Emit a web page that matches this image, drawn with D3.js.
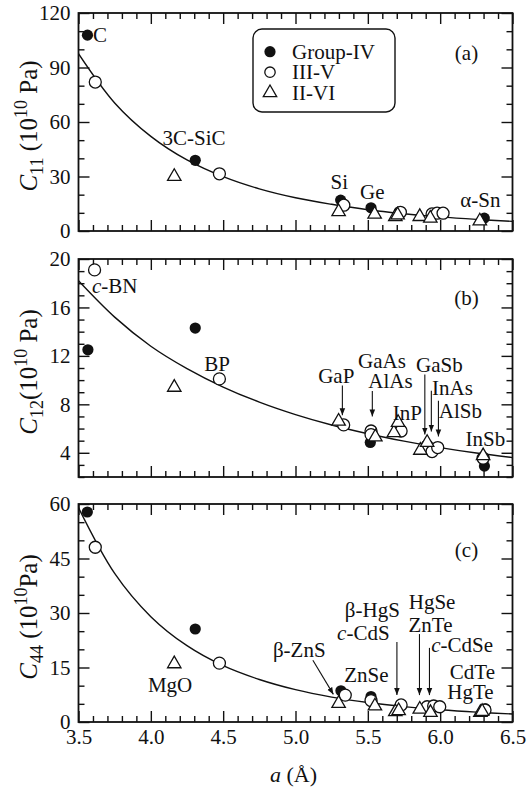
<!DOCTYPE html>
<html>
<head>
<meta charset="utf-8">
<script src="https://cdn.jsdelivr.net/npm/d3@7"></script>
<style>
  body { margin: 0; background: #fff; }
  svg { display: block; }
  text { font-family: "Liberation Serif", "Times New Roman", serif; fill: #111; }
</style>
</head>
<body>
<div id="chart"></div>
<script>
// lattice constant a (Å) and elastic constants (10^10 Pa)
const c11_IV_a = [3.562, 4.307, 5.312, 5.522, 6.305];
const c11_IV = [107.8, 38.9, 17.0, 12.8, 7.1];
const c11_IIIV_a = [3.616, 4.474, 5.334, 5.725, 5.944, 5.979, 6.020];
const c11_IIIV = [82.0, 31.5, 14.2, 10.3, 9.4, 9.8, 9.8];
const c11_IIVI_a = [4.162, 5.298, 5.547, 5.690, 5.706, 5.859, 5.932, 6.274];
const c11_IIVI = [30.0, 10.6, 9.2, 7.9, 8.8, 7.9, 7.0, 5.5];

const c12_IV_a = [3.565, 4.307, 5.517, 6.306];
const c12_IV = [12.5, 14.3, 4.85, 2.9];
const c12_IIIV_a = [3.611, 4.474, 5.333, 5.522, 5.522, 5.730, 5.910, 5.944, 5.983, 6.297];
const c12_IIIV = [19.1, 10.1, 6.3, 5.8, 5.5, 5.8, 4.57, 4.1, 4.43, 3.55];
const c12_IIVI_a = [4.162, 5.298, 5.552, 5.680, 5.709, 5.863, 5.910, 6.297];
const c12_IIVI = [9.4, 6.6, 5.3, 5.65, 6.5, 4.2, 4.85, 3.75];

const c44_IV_a = [3.561, 4.307, 5.314, 5.522, 6.313];
const c44_IV = [57.8, 25.6, 8.6, 7.0, 3.6];
const c44_IIIV_a = [3.616, 4.474, 5.344, 5.522, 5.730, 5.910, 5.955, 5.997, 6.310];
const c44_IIIV = [48.1, 16.2, 7.4, 5.9, 4.7, 4.2, 4.4, 4.2, 3.3];
const c44_IIVI_a = [4.162, 5.298, 5.549, 5.690, 5.713, 5.859, 5.933, 6.278, 6.290];
const c44_IIVI = [16.0, 5.1, 4.4, 2.8, 3.1, 3.5, 2.6, 2.6, 2.9];

// fitted curves, read at fixed a
const fitA = [3.5, 3.75, 4.0, 4.25, 4.5, 4.75, 5.0, 5.25, 5.5, 5.75, 6.0, 6.25, 6.5];
const fitC11 = [97.6, 70.5, 52.1, 39.1, 29.9, 23.2, 18.3, 14.7, 11.7, 9.5, 7.75, 6.4, 5.3];
const fitC12 = [18.2, 15.2, 12.8, 10.95, 9.43, 8.18, 7.15, 6.29, 5.57, 4.96, 4.43, 3.98, 3.6];
const fitC44 = [59, 40.9, 29.0, 21.0, 15.5, 11.7, 8.9, 6.86, 5.35, 4.22, 3.37, 2.71, 2.2];

// tick labels
const xTicks = [3.5, 4.0, 4.5, 5.0, 5.5, 6.0, 6.5];
const c11Ticks = [0, 30, 60, 90, 120];
const c12Ticks = [4, 8, 12, 16, 20];
const c44Ticks = [0, 15, 30, 45, 60];

const legendLabels = ['Group-IV', 'III-V', 'II-VI'];

// text labels: [text, a, value]
const c11Labels = [['C', 3.6, 104, 'start'], ['3C-SiC', 4.299, 47.3], ['Si', 5.303, 23.1], ['Ge', 5.531, 17.6], ['α-Sn', 6.278, 13.2]];
const c12Labels = [['BP', 4.458, 10.79], ['GaP', 5.282, 9.8], ['GaAs', 5.598, 11.04], ['AlAs', 5.656, 9.38],
  ['InP', 5.773, 6.73], ['GaSb', 5.995, 10.63], ['InAs', 6.085, 8.8], ['AlSb', 6.14, 6.89], ['InSb', 6.313, 4.57]];
const c44Labels = [['β-ZnS', 5.026, 17.9], ['ZnSe', 5.49, 11.0], ['β-HgS', 5.531, 28.9], ['HgSe', 5.944, 31.1],
  ['ZnTe', 5.933, 24.8], ['CdTe', 6.223, 11.8], ['HgTe', 6.209, 6.3], ['MgO', 4.133, 8.3]];
// arrows: [a1, v1, a2, v2]
const c12Arrows = [[5.324, 9.55, 5.324, 7.1], [5.531, 9.1, 5.531, 7.0], [5.894, 10.46, 5.894, 5.5],
  [5.939, 9.13, 5.939, 5.75], [5.988, 8.3, 5.988, 5.35]];
const c44Arrows = [[5.12, 17.0, 5.262, 7.6], [5.701, 22.0, 5.701, 7.4], [5.857, 24.2, 5.857, 7.4], [5.926, 20.4, 5.926, 7.4]];

const W = 527, H = 790;
const left = 78.5, right = 512.5, ph = 218;
const tops = [13, 259, 504];

const svg = d3.select('#chart').append('svg').attr('width', W).attr('height', H);
svg.append('rect').attr('width', W).attr('height', H).attr('fill', '#fff');

const defs = svg.append('defs');
defs.append('marker').attr('id', 'arrow').attr('viewBox', '0 0 10 10')
  .attr('refX', 10).attr('refY', 5).attr('markerWidth', 7).attr('markerHeight', 7)
  .attr('markerUnits', 'userSpaceOnUse').attr('orient', 'auto')
  .append('path').attr('d', 'M0,1 L10,5 L0,9 Z').attr('fill', '#111');

const x = d3.scaleLinear().domain([3.5, 6.5]).range([0, right - left]);
const xMinor = d3.range(35, 66).map(d => d / 10).filter(d => Math.round(d * 10) % 5 !== 0);

const tri = d3.symbol().type(d3.symbolTriangle).size(78);

function drawPanel(i, cfg) {
  const g = svg.append('g').attr('transform', `translate(${left},${tops[i]})`);
  const w = right - left;
  const y = d3.scaleLinear().domain(cfg.domain).range([ph, 0]);

  const clipId = 'clip' + i;
  defs.append('clipPath').attr('id', clipId).append('rect').attr('width', w).attr('height', ph);

  // ticks, inward on all four sides
  const addAxis = (axis, tr) => {
    const a = g.append('g').attr('transform', tr).call(axis);
    a.select('.domain').remove();
    a.selectAll('line').attr('stroke', '#111').attr('stroke-width', 1.4);
    a.selectAll('text').attr('font-size', 21).attr('fill', '#111')
      .style('font-family', '"Liberation Serif", "Times New Roman", serif');
    return a;
  };
  addAxis(d3.axisBottom(x).tickValues(xMinor).tickSize(-6).tickSizeOuter(0).tickFormat(''), `translate(0,${ph})`);
  addAxis(d3.axisTop(x).tickValues(xMinor).tickSize(-6).tickSizeOuter(0).tickFormat(''), 'translate(0,0)');
  addAxis(d3.axisBottom(x).tickValues(xTicks).tickSize(-11).tickSizeOuter(0).tickPadding(7)
    .tickFormat(i === 2 ? d3.format('.1f') : ''), `translate(0,${ph})`);
  addAxis(d3.axisTop(x).tickValues(xTicks).tickSize(-11).tickSizeOuter(0).tickFormat(''), 'translate(0,0)');

  const yMinor = d3.range(cfg.domain[0], cfg.domain[1] + 1e-9, cfg.minor).filter(v => !cfg.ticks.includes(v));
  addAxis(d3.axisLeft(y).tickValues(yMinor).tickSize(-6).tickSizeOuter(0).tickFormat(''), 'translate(0,0)');
  addAxis(d3.axisRight(y).tickValues(yMinor).tickSize(-6).tickSizeOuter(0).tickFormat(''), `translate(${w},0)`);
  addAxis(d3.axisLeft(y).tickValues(cfg.ticks).tickSize(-11).tickSizeOuter(0).tickPadding(8), 'translate(0,0)');
  addAxis(d3.axisRight(y).tickValues(cfg.ticks).tickSize(-11).tickSizeOuter(0).tickFormat(''), `translate(${w},0)`);

  // fitted curve
  const line = d3.line().x((d, j) => x(fitA[j])).y(d => y(d)).curve(d3.curveCatmullRom);
  g.append('path').attr('d', line(cfg.fit)).attr('clip-path', `url(#${clipId})`)
    .attr('fill', 'none').attr('stroke', '#111').attr('stroke-width', 1.4);

  // markers
  const pts = g.append('g').attr('clip-path', `url(#${clipId})`);
  pts.selectAll('circle.iv').data(cfg.iv).enter().append('circle')
    .attr('cx', (d, j) => x(cfg.ivA[j])).attr('cy', d => y(d)).attr('r', 5.6).attr('fill', '#111');
  pts.selectAll('circle.iiiv').data(cfg.iiiv).enter().append('circle')
    .attr('cx', (d, j) => x(cfg.iiivA[j])).attr('cy', d => y(d)).attr('r', 6)
    .attr('fill', '#fff').attr('stroke', '#111').attr('stroke-width', 1.3);
  pts.selectAll('path.iivi').data(cfg.iivi).enter().append('path')
    .attr('d', tri).attr('transform', (d, j) => `translate(${x(cfg.iiviA[j])},${y(d)})`)
    .attr('fill', '#fff').attr('stroke', '#111').attr('stroke-width', 1.3);

  // arrows
  g.selectAll('line.arr').data(cfg.arrows || []).enter().append('line')
    .attr('x1', d => x(d[0])).attr('y1', d => y(d[1]))
    .attr('x2', d => x(d[2])).attr('y2', d => y(d[3]))
    .attr('stroke', '#111').attr('stroke-width', 1.1).attr('marker-end', 'url(#arrow)');

  // labels
  g.selectAll('text.lab').data(cfg.labels).enter().append('text')
    .attr('x', d => x(d[1])).attr('y', d => y(d[2]))
    .attr('text-anchor', d => d[3] || 'middle').attr('font-size', 21)
    .text(d => d[0]);

  // frame
  g.append('rect').attr('width', w).attr('height', ph)
    .attr('fill', 'none').attr('stroke', '#111').attr('stroke-width', 1.8);

  // panel letter
  g.append('text').attr('x', w - 46).attr('y', cfg.letterY).attr('text-anchor', 'middle')
    .attr('font-size', 21).text(cfg.letter);

  // y label
  const yl = g.append('text').attr('transform', `translate(-42,${ph / 2 + 4}) rotate(-90)`)
    .attr('text-anchor', 'middle').attr('font-size', 25);
  yl.append('tspan').attr('font-style', 'italic').text('C');
  yl.append('tspan').attr('font-size', 18).attr('dy', 6).text(cfg.sub);
  yl.append('tspan').attr('dy', -6).text(cfg.gap + '(10');
  yl.append('tspan').attr('font-size', 18).attr('dy', -10).text('10');
  yl.append('tspan').attr('dy', 10).text(cfg.pa);

  return { g, y };
}

drawPanel(0, {
  domain: [0, 120], ticks: c11Ticks, minor: 10, fit: fitC11,
  ivA: c11_IV_a, iv: c11_IV, iiivA: c11_IIIV_a, iiiv: c11_IIIV, iiviA: c11_IIVI_a, iivi: c11_IIVI,
  labels: c11Labels, letter: '(a)', letterY: 47, sub: '11', gap: ' ', pa: ' Pa)'
});
const pb = drawPanel(1, {
  domain: [2, 20], ticks: c12Ticks, minor: 1, fit: fitC12,
  ivA: c12_IV_a, iv: c12_IV, iiivA: c12_IIIV_a, iiiv: c12_IIIV, iiviA: c12_IIVI_a, iivi: c12_IIVI,
  labels: c12Labels, arrows: c12Arrows, letter: '(b)', letterY: 46, sub: '12', gap: '', pa: ' Pa)'
});
const pc = drawPanel(2, {
  domain: [0, 60], ticks: c44Ticks, minor: 5, fit: fitC44,
  ivA: c44_IV_a, iv: c44_IV, iiivA: c44_IIIV_a, iiiv: c44_IIIV, iiviA: c44_IIVI_a, iivi: c44_IIVI,
  labels: c44Labels, arrows: c44Arrows, letter: '(c)', letterY: 53, sub: '44', gap: ' ', pa: 'Pa)'
});

// labels with an italic "c-" prefix
function italicLabel(p, a, v, rest, anchor) {
  const t = p.g.append('text').attr('x', x(a)).attr('y', p.y(v)).attr('text-anchor', anchor).attr('font-size', 21);
  t.append('tspan').attr('font-style', 'italic').text('c');
  t.append('tspan').text(rest);
}
italicLabel(pb, 3.593, 17.18, '-BN', 'start');
italicLabel(pc, 5.469, 22.6, '-CdS', 'middle');
italicLabel(pc, 6.152, 19.3, '-CdSe', 'middle');

// legend in panel (a)
const lg = svg.append('g').attr('transform', `translate(${left},${tops[0]})`);
lg.append('rect').attr('x', 253 - left).attr('y', 16).attr('width', 142).attr('height', 83)
  .attr('rx', 9).attr('fill', '#fff').attr('stroke', '#111').attr('stroke-width', 1.4);
const rows = lg.selectAll('g.row').data(legendLabels).enter().append('g')
  .attr('transform', (d, j) => `translate(${270 - left},${38.7 + j * 20.5})`);
rows.filter((d, j) => j === 0).append('circle').attr('r', 5.6).attr('fill', '#111');
rows.filter((d, j) => j === 1).append('circle').attr('r', 5.2).attr('fill', '#fff').attr('stroke', '#111').attr('stroke-width', 1.3);
rows.filter((d, j) => j === 2).append('path').attr('d', tri).attr('fill', '#fff').attr('stroke', '#111').attr('stroke-width', 1.3);
rows.append('text').attr('x', 22).attr('y', 7).attr('font-size', 21).text(d => d);

// x label
const xl = svg.append('text').attr('x', left + x(5.0) - 2).attr('y', 782)
  .attr('text-anchor', 'middle').attr('font-size', 22);
xl.append('tspan').attr('font-style', 'italic').text('a');
xl.append('tspan').text(' (Å)');
</script>
</body>
</html>
